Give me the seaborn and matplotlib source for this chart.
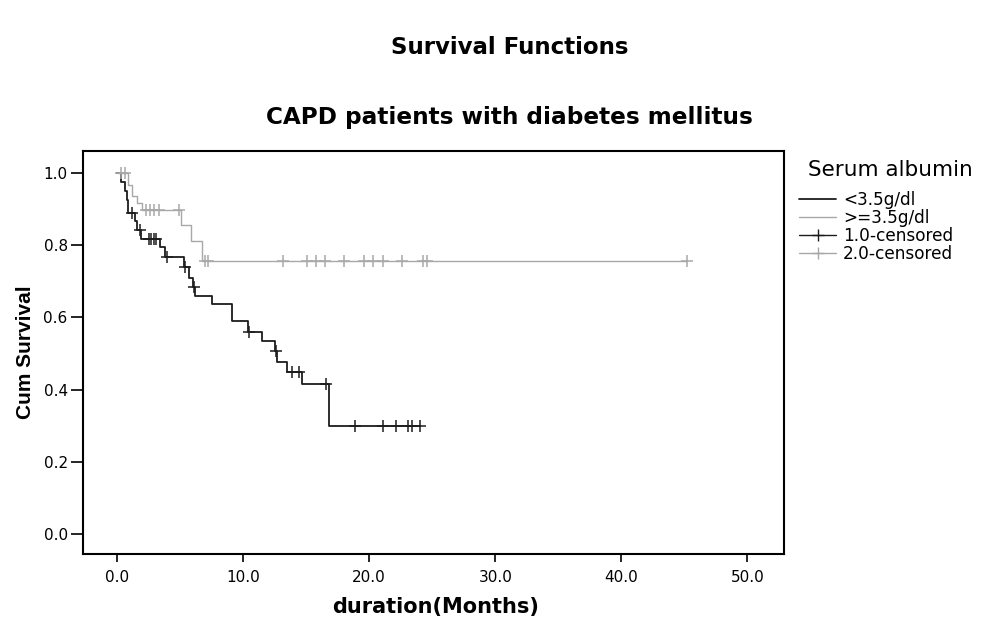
import numpy as np
import pandas as pd
import matplotlib
matplotlib.use("Agg")
import matplotlib.pyplot as plt
from matplotlib.lines import Line2D
import seaborn as sns

# ---- data ----
g1_event_t = [0.3, 0.6, 0.8, 0.9, 1.4, 1.6, 1.9, 3.4, 3.8, 5.3, 5.7, 6.0, 6.2, 7.5, 9.1, 10.4, 11.5, 12.5, 12.7, 13.5, 14.7, 16.8]
g1_event_s = [0.975, 0.95, 0.925, 0.89, 0.867, 0.842, 0.818, 0.795, 0.768, 0.74, 0.71, 0.685, 0.66, 0.636, 0.59, 0.56, 0.535, 0.507, 0.478, 0.449, 0.415, 0.30]
g1_censor_t = [1.2, 1.8, 2.5, 2.7, 2.9, 3.1, 4.0, 5.4, 6.1, 10.5, 12.6, 13.9, 14.4, 16.6, 18.9, 21.1, 22.1, 23.1, 23.4, 24.0]

g2_event_t = [0.9, 1.2, 1.6, 2.0, 5.1, 5.9, 6.7]
g2_event_s = [0.965, 0.935, 0.915, 0.897, 0.855, 0.81, 0.756]
g2_censor_t = [0.3, 0.6, 2.3, 2.6, 2.9, 3.3, 4.9, 7.0, 7.2, 13.2, 15.1, 15.8, 16.5, 18.0, 19.6, 20.3, 21.1, 22.6, 24.3, 24.6, 45.2]

group_labels = ["<3.5g/dl", ">=3.5g/dl"]
censor_labels = ["1.0-censored", "2.0-censored"]
x_ticks = [0, 10, 20, 30, 40, 50]
y_ticks = [0.0, 0.2, 0.4, 0.6, 0.8, 1.0]

colors = ["#1c1c1c", "#a8a8a8"]

sns.set_theme(style="white")
plt.rcParams["font.family"] = ["DejaVu Sans"]


def step_frame(ev_t, ev_s, cen_t):
    end = max(max(ev_t), max(cen_t))
    t = [0.0] + list(ev_t) + [end]
    s = [1.0] + list(ev_s) + [ev_s[-1]]
    return pd.DataFrame({"t": t, "S": s})


def censor_frame(ev_t, ev_s, cen_t):
    ev_t = np.asarray(ev_t)
    ev_s = np.asarray(ev_s)
    vals = []
    for c in cen_t:
        idx = np.searchsorted(ev_t, c, side="right") - 1
        vals.append(1.0 if idx < 0 else ev_s[idx])
    return pd.DataFrame({"t": cen_t, "S": vals})


fig = plt.figure(figsize=(9.88, 6.2), dpi=100)
ax = fig.add_axes([0.084, 0.106, 0.7095, 0.651])

groups = [(g1_event_t, g1_event_s, g1_censor_t), (g2_event_t, g2_event_s, g2_censor_t)]
for (et, es, ct), col, lw in zip(groups, colors, [1.3, 1.0]):
    sf = step_frame(et, es, ct)
    sns.lineplot(data=sf, x="t", y="S", ax=ax, color=col, lw=lw,
                 drawstyle="steps-post", estimator=None, sort=False, legend=False)
    cf = censor_frame(et, es, ct)
    sns.scatterplot(data=cf, x="t", y="S", ax=ax, color=col, marker="+",
                    s=70, linewidth=1.1, legend=False, zorder=3)

ax.set_xlim(-2.7, 52.9)
ax.set_ylim(-0.055, 1.061)
ax.set_xticks(x_ticks)
ax.set_xticklabels([f"{v:.1f}" for v in x_ticks])
ax.set_yticks(y_ticks)
ax.set_yticklabels([f"{v:.1f}" for v in y_ticks])
ax.tick_params(axis="both", direction="out", width=1.2, color="black",
               labelsize=11, labelcolor="black", left=True, bottom=True)
ax.tick_params(axis="x", length=6, pad=5)
ax.tick_params(axis="y", length=9, pad=2)
ax.set_xlabel("")
ax.set_ylabel("")
for sp in ax.spines.values():
    sp.set_visible(True)
    sp.set_color("black")
    sp.set_linewidth(1.5)

fig.text(0.516, 0.923, "Survival Functions", ha="center", va="center",
         fontsize=16.5, fontweight="bold", color="black")
fig.text(0.516, 0.811, "CAPD patients with diabetes mellitus", ha="center", va="center",
         fontsize=16.7, fontweight="bold", color="black")
fig.text(0.026, 0.432, "Cum Survival", rotation=90, ha="center", va="center",
         fontsize=15, fontweight="bold", color="black",
         family=["Liberation Sans Narrow", "Liberation Sans", "DejaVu Sans"])
fig.text(0.441, 0.021, "duration(Months)", ha="center", va="center",
         fontsize=15, fontweight="bold", color="black")

fig.text(0.818, 0.726, "Serum albumin", ha="left", va="center",
         fontsize=15.5, color="black")

handles = [
    Line2D([], [], color=colors[0], lw=1.3),
    Line2D([], [], color=colors[1], lw=1.0),
    Line2D([], [], color=colors[0], lw=1.0, marker="+", markersize=8),
    Line2D([], [], color=colors[1], lw=1.0, marker="+", markersize=8),
]
leg = fig.legend(handles, group_labels + censor_labels, loc="upper left",
                 bbox_to_anchor=(0.802, 0.703), frameon=False, fontsize=12.2,
                 handlelength=2.2, labelspacing=0.0, handletextpad=0.4,
                 borderaxespad=0.0)
for txt in leg.get_texts():
    txt.set_color("black")

fig.savefig("out.png", dpi=100)
